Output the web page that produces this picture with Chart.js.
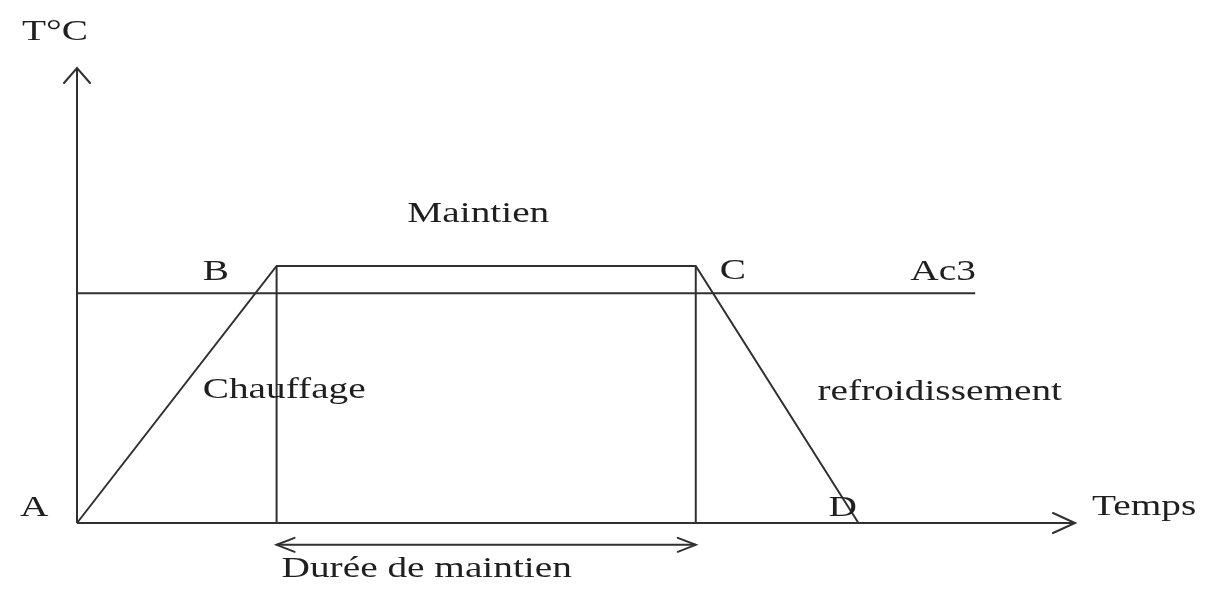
<!DOCTYPE html>
<html>
<head>
<meta charset="utf-8">
<script src="https://cdn.jsdelivr.net/npm/chart.js@4/dist/chart.umd.min.js"></script>
<style>
  html, body { margin: 0; padding: 0; background: #ffffff; }
  #wrap { width: 1212px; height: 594px; position: relative; }
</style>
</head>
<body>
<div id="wrap"><canvas id="c"></canvas></div>
<script>
// ---- data (schematic units: time 0..10, temperature 0..100) ----
const timeMax = 10;
const tempMax = 100;
const profileTime = [0, 2.0, 6.2, 7.83];       // A, B, C, D
const profileTemp = [0, 56.5, 56.5, 0];
const pointNames = ['A', 'B', 'C', 'D'];
const ac3Temp = 50.5;
const ac3End = 9.0;
const holdStart = 2.0;
const holdEnd = 6.2;
const holdArrowTemp = -4.8;

// text labels: text, time, temp (left edge, baseline)
const labelText = ['T°C', 'Maintien', 'B', 'C', 'Ac3', 'Chauffage', 'refroidissement', 'A', 'D', 'Temps', 'Durée de maintien'];
const labelTime = [-0.55, 3.31, 1.26, 6.44, 8.35, 1.26, 7.42, -0.57, 7.53, 10.17, 2.05];
const labelTemp = [106.2, 66.2, 53.4, 53.6, 53.4, 27.5, 27.0, 1.5, 1.5, 1.8, -11.9];

const INK = '#303030';
const LW = 2;

const profile = profileTime.map((t, i) => ({ x: t, y: profileTemp[i] }));
const lineDs = (data) => ({
  data, showLine: true, borderColor: INK, borderWidth: LW,
  pointRadius: 0, pointHoverRadius: 0, fill: false, clip: false, tension: 0
});

const datasets = [
  lineDs([{ x: 0, y: 0 }, { x: timeMax, y: 0 }]),          // time axis
  lineDs([{ x: 0, y: 0 }, { x: 0, y: tempMax }]),          // temperature axis
  lineDs(profile),                                         // A-B-C-D
  lineDs([{ x: 0, y: ac3Temp }, { x: ac3End, y: ac3Temp }]), // Ac3
  lineDs([{ x: profileTime[1], y: 0 }, { x: profileTime[1], y: profileTemp[1] }]),
  lineDs([{ x: profileTime[2], y: 0 }, { x: profileTime[2], y: profileTemp[2] }]),
  lineDs([{ x: holdStart, y: holdArrowTemp }, { x: holdEnd, y: holdArrowTemp }])
];

function openHead(ctx, tx, ty, dx, dy, len, half) {
  const bx = tx - dx * len, by = ty - dy * len;
  const px = -dy, py = dx;
  ctx.beginPath();
  ctx.moveTo(bx + px * half, by + py * half);
  ctx.lineTo(tx, ty);
  ctx.lineTo(bx - px * half, by - py * half);
  ctx.stroke();
}

const decor = {
  id: 'decor',
  afterDatasetsDraw(chart) {
    const ctx = chart.ctx;
    const xs = chart.scales.x, ys = chart.scales.y;
    ctx.save();
    ctx.strokeStyle = INK;
    ctx.lineWidth = LW;
    ctx.lineCap = 'round';
    ctx.lineJoin = 'miter';
    // axis arrows
    openHead(ctx, xs.getPixelForValue(0), ys.getPixelForValue(tempMax), 0, -1, 15, 13);
    openHead(ctx, xs.getPixelForValue(timeMax), ys.getPixelForValue(0), 1, 0, 22, 10);
    // hold duration double arrow
    const ay = ys.getPixelForValue(holdArrowTemp);
    openHead(ctx, xs.getPixelForValue(holdStart), ay, -1, 0, 18, 7);
    openHead(ctx, xs.getPixelForValue(holdEnd), ay, 1, 0, 18, 7);
    // labels
    ctx.fillStyle = '#1f1f1f';
    ctx.font = '30px "Liberation Serif", "Times New Roman", serif';
    ctx.textBaseline = 'alphabetic';
    ctx.textAlign = 'left';
    labelText.forEach((txt, i) => {
      const px = xs.getPixelForValue(labelTime[i]);
      const py = ys.getPixelForValue(labelTemp[i]);
      ctx.save();
      ctx.translate(px, py);
      ctx.scale(1.31, 1);
      ctx.fillText(txt, 0, 0);
      ctx.restore();
    });
    ctx.restore();
  }
};

new Chart(document.getElementById('c'), {
  type: 'scatter',
  data: { datasets },
  options: {
    responsive: true,
    maintainAspectRatio: false,
    animation: false,
    events: [],
    layout: { padding: { left: 77, right: 137, top: 68, bottom: 71 } },
    plugins: { legend: { display: false }, tooltip: { enabled: false } },
    scales: {
      x: { type: 'linear', min: 0, max: timeMax, display: false },
      y: { type: 'linear', min: 0, max: tempMax, display: false }
    }
  },
  plugins: [decor]
});
</script>
</body>
</html>
